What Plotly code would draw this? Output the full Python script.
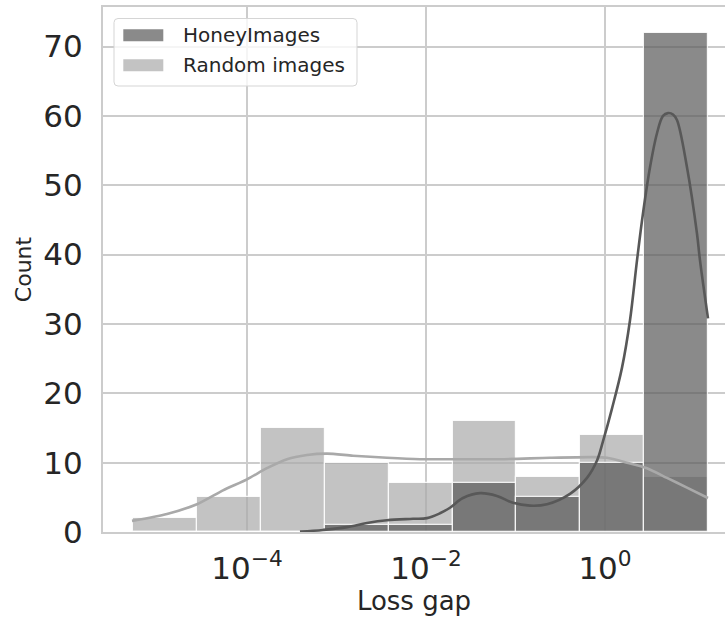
import plotly.graph_objects as go

# ---- data (x values are log10 of the loss gap) ----
bin_edges = [-5.27, -4.557, -3.843, -3.13, -2.417, -1.703, -0.99, -0.277, 0.437, 1.15]
honey_counts = [0, 0, 0, 1, 1, 7, 5, 10, 72]
random_counts = [2, 5, 15, 10, 7, 16, 8, 14, 8]

random_kde_x = [-5.285, -4.894, -4.559, -4.268, -4.0, -3.777, -3.553, -3.330, -3.106, -2.816,
                -2.436, -2.067, -1.732, -1.173, -0.615, -0.134, 0.022, 0.246, 0.469, 0.693,
                0.916, 1.151]
random_kde_y = [1.6, 2.6, 4.0, 6.0, 7.6, 9.2, 10.5, 11.1, 11.3, 11.0,
                10.7, 10.5, 10.5, 10.5, 10.7, 10.8, 10.7, 10.0, 9.2, 7.8,
                6.4, 4.9]

honey_kde_x = [-3.408, -3.151, -2.883, -2.659, -2.436, -2.145, -1.989, -1.844, -1.732, -1.587,
               -1.397, -1.207, -1.028, -0.838, -0.648, -0.391, -0.201, -0.089, -0.022, 0.078,
               0.190, 0.279, 0.358, 0.425, 0.503, 0.581, 0.648, 0.704, 0.760, 0.804,
               0.916, 1.028, 1.061, 1.151]
honey_kde_y = [0.05, 0.3, 0.7, 1.3, 1.7, 1.9, 2.0, 2.7, 3.5, 4.9,
               5.6, 5.2, 4.2, 3.8, 4.0, 5.5, 7.8, 10.3, 13.1, 17.8,
               23.7, 30.5, 39.2, 46.0, 52.6, 57.5, 60.0, 60.4, 60.2, 59.4,
               52.6, 43.0, 39.2, 30.8]

tick_vals = [-4, -2, 0]
tick_text = ["10<sup>−4</sup>", "10<sup>−2</sup>", "10<sup>0</sup>"]
y_ticks = [0, 10, 20, 30, 40, 50, 60, 70]
series_names = ["HoneyImages", "Random images"]

# ---- styling ----
HONEY = "rgba(88,88,88,0.7)"
RANDOM = "rgba(169,169,169,0.7)"
HONEY_LINE = "#585858"
RANDOM_LINE = "#a9a9a9"
TEXT = "#262626"
GRID = "#cccccc"
FONT = "DejaVu Sans"

centers = [(a + b) / 2 for a, b in zip(bin_edges[:-1], bin_edges[1:])]
widths = [b - a for a, b in zip(bin_edges[:-1], bin_edges[1:])]

fig = go.Figure()
fig.add_trace(go.Bar(x=centers, y=random_counts, width=widths, name=series_names[1],
                     marker=dict(color=RANDOM, line=dict(color="rgba(255,255,255,0.85)", width=1.2)),
                     showlegend=False))
fig.add_trace(go.Bar(x=centers, y=honey_counts, width=widths, name=series_names[0],
                     marker=dict(color=HONEY, line=dict(color="rgba(255,255,255,0.85)", width=1.2)),
                     showlegend=False))
fig.add_trace(go.Scatter(x=random_kde_x, y=random_kde_y, mode="lines",
                         line=dict(color=RANDOM_LINE, width=2.6, shape="spline", smoothing=0.7),
                         showlegend=False))
fig.add_trace(go.Scatter(x=honey_kde_x, y=honey_kde_y, mode="lines",
                         line=dict(color=HONEY_LINE, width=2.6, shape="spline"),
                         showlegend=False))

W, H = 725, 620
L, R, T, B = 103, 0, 7, 88
pw, ph = W - L - R, H - T - B


def px_x(p):
    return (p - L) / pw


def px_y(p):
    return (H - B - p) / ph


# custom legend (matplotlib style)
x0, x1, y0, y1 = px_x(114), px_x(357), px_y(18.5), px_y(86)
rx, ry = 4 / pw, 4 / ph
path = (f"M {x0+rx},{y0} L {x1-rx},{y0} Q {x1},{y0} {x1},{y0-ry} "
        f"L {x1},{y1+ry} Q {x1},{y1} {x1-rx},{y1} L {x0+rx},{y1} Q {x0},{y1} {x0},{y1+ry} "
        f"L {x0},{y0-ry} Q {x0},{y0} {x0+rx},{y0} Z")
shapes = [dict(type="path", xref="paper", yref="paper", path=path,
               fillcolor="rgba(255,255,255,0.8)", line=dict(color="#d5d5d5", width=1), layer="above")]
for color, ytop in [(HONEY, 29.3), (RANDOM, 59.3)]:
    shapes.append(dict(type="rect", xref="paper", yref="paper",
                       x0=px_x(123.3), x1=px_x(163.3), y0=px_y(ytop), y1=px_y(ytop + 12),
                       fillcolor=color, line=dict(width=0), layer="above"))
annotations = []
for name, yc in [(series_names[0], 35.3), (series_names[1], 65.3)]:
    annotations.append(dict(xref="paper", yref="paper", x=px_x(181), y=px_y(yc),
                            xanchor="left", yanchor="middle", showarrow=False, text=name,
                            font=dict(family=FONT, size=20, color=TEXT)))

fig.update_layout(
    width=W, height=H,
    margin=dict(l=L, r=R, t=T, b=B, autoexpand=False),
    paper_bgcolor="white", plot_bgcolor="white",
    barmode="overlay", bargap=0,
    font=dict(family=FONT, color=TEXT),
    shapes=shapes, annotations=annotations,
    xaxis=dict(range=[(103 - 605) / 89.5, (725 - 605) / 89.5],
               tickvals=tick_vals, ticktext=tick_text,
               tickfont=dict(family=FONT, size=31, color=TEXT),
               showgrid=True, gridcolor=GRID, gridwidth=1.6,
               showline=True, linecolor=GRID, linewidth=2, mirror=True,
               zeroline=False, ticks="", ticklabelstandoff=8,
               title=dict(text="Loss gap", font=dict(family=FONT, size=26, color=TEXT), standoff=6)),
    yaxis=dict(range=[0, 75.7], tickvals=y_ticks,
               tickfont=dict(family=FONT, size=31, color=TEXT),
               showgrid=True, gridcolor=GRID, gridwidth=1.6,
               showline=True, linecolor=GRID, linewidth=2, mirror=False,
               zeroline=False, ticks="", ticklabelstandoff=12,
               title=dict(text="Count", font=dict(family=FONT, size=22, color=TEXT), standoff=6)),
)

fig.write_html("out.html")
